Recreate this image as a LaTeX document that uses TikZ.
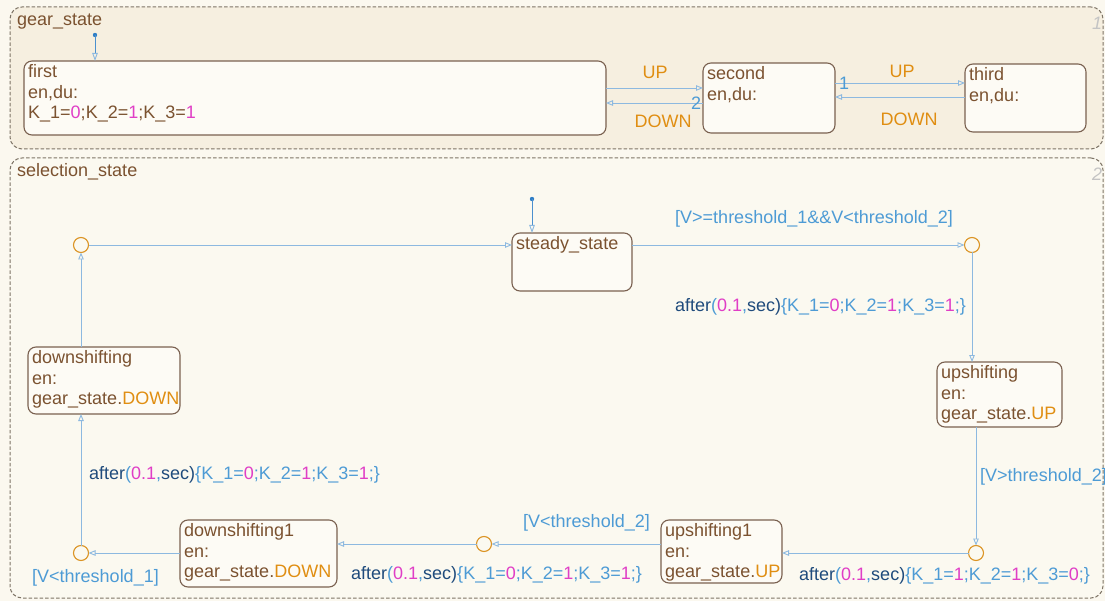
\documentclass[tikz,border=0pt]{standalone}
\usepackage{fontspec}
\setmainfont{Liberation Sans}
\usetikzlibrary{arrows.meta,calc}

\definecolor{paper}{HTML}{FBF8EF}
\definecolor{gearfill}{HTML}{F6EFE0}
\definecolor{selfill}{HTML}{FBF9F0}
\definecolor{framec}{HTML}{7E7466}
\definecolor{stfill}{HTML}{FDFBF5}
\definecolor{stline}{HTML}{7A6150}
\definecolor{brn}{HTML}{7B5230}
\definecolor{trn}{HTML}{8DB9E0}
\definecolor{sky}{HTML}{4D9BD5}
\definecolor{navy}{HTML}{1F4B7C}
\definecolor{mag}{HTML}{E03EC6}
\definecolor{org}{HTML}{E08E12}
\definecolor{junc}{HTML}{DB9424}
\definecolor{dotc}{HTML}{2F7EC6}
\definecolor{idx}{HTML}{C4C4C4}

\newcommand{\fs}{\fontsize{18}{20.5}\selectfont}
% transition action: after(0.1,sec){K_1=a;K_2=b;K_3=c;}
\newcommand{\aftr}[3]{\textcolor{navy}{after}\textcolor{sky}{(}\textcolor{mag}{0.1}\textcolor{sky}{,}\textcolor{navy}{sec)}\textcolor{sky}{\{K\_1=}\textcolor{mag}{#1}\textcolor{sky}{;K\_2=}\textcolor{mag}{#2}\textcolor{sky}{;K\_3=}\textcolor{mag}{#3}\textcolor{sky}{;\}}}

\tikzset{
  chart/.style={draw=framec, dash pattern=on 3.5pt off 2pt, rounded corners=12pt,
    line width=1pt, anchor=north west, inner sep=0, outer sep=0},
  chartname/.style={anchor=west, text=brn, font=\fs, inner sep=0},
  chartidx/.style={anchor=center, text=idx, font=\fs\itshape, inner sep=0},
  state/.style={draw=stline, fill=stfill, rounded corners=8pt, line width=1.1pt,
    anchor=north west, inner sep=0, outer sep=0},
  stxt/.style={anchor=north west, align=left, text=brn, font=\fs,
    inner xsep=4pt, inner ysep=3.5pt},
  junction/.style={circle, draw=junc, fill=selfill, minimum size=15pt,
    inner sep=0, outer sep=0, line width=1.1pt},
  trans/.style={draw=trn, line width=0.9pt,
    -{Triangle[open, length=7pt, width=5.5pt]}},
  deflt/.style={draw=dotc!70!trn, line width=0.9pt,
    -{Triangle[open, length=8pt, width=5.5pt, color=trn]}},
  lab/.style={text=sky, font=\fs, inner sep=0},
  evt/.style={text=org, font=\fs, inner sep=0},
}

\begin{document}
\begin{tikzpicture}[x=1pt, y=-1pt]
\useasboundingbox (0,0) rectangle (1105,601);
\fill[paper] (0,0) rectangle (1105,601);

% ---------- gear_state ----------
\node[chart, fill=gearfill, minimum width=1093pt, minimum height=142pt] (gear) at (10,7) {};
\node[chartname] (gearname) at (17,22) {gear\_state};
\node[chartidx] (gearidx) at (1097,23) {1};

\node[state, minimum width=582pt, minimum height=74pt,
  label={[stxt]north west:first\\en,du:\\K\_1=\textcolor{mag}{0};K\_2=\textcolor{mag}{1};K\_3=\textcolor{mag}{1}}]
  (first) at (24,61) {};
\node[state, minimum width=132pt, minimum height=70pt,
  label={[stxt]north west:second\\en,du:}] (second) at (703,63) {};
\node[state, minimum width=121pt, minimum height=68pt,
  label={[stxt]north west:third\\en,du:}] (third) at (965,64) {};

\coordinate (d1) at (95,35);
\fill[dotc] (d1) circle (2.2pt);
\draw[deflt] (d1) -- (first.north -| d1);

\draw[trans] ([yshift=10pt]first.east) -- ([yshift=10pt]second.west);
\draw[trans] ([yshift=-5pt]second.west) -- ([yshift=-5pt]first.east);
\draw[trans] ([yshift=15pt]second.east) -- ([yshift=15pt]third.west);
\draw[trans] ([yshift=1pt]third.west) -- ([yshift=1pt]second.east);

\node[evt] (e1) at (655,72) {UP};
\node[evt] (e2) at (663,121) {DOWN};
\node[lab] (p2) at (696,103) {2};
\node[lab] (p1) at (844,83) {1};
\node[evt] (e3) at (902,71) {UP};
\node[evt] (e4) at (909,119) {DOWN};

% ---------- selection_state ----------
\node[chart, fill=selfill, minimum width=1093pt, minimum height=440pt] (sel) at (10,158) {};
\node[chartname] (selname) at (17,172) {selection\_state};
\node[chartidx] (selidx) at (1097,174) {2};

\node[state, minimum width=120pt, minimum height=58pt,
  label={[stxt]north west:steady\_state}] (steady) at (512,233) {};
\node[state, minimum width=125pt, minimum height=65pt,
  label={[stxt]north west:upshifting\\en:\\gear\_state.\textcolor{org}{UP}}] (up) at (937,362) {};
\node[state, minimum width=121pt, minimum height=63pt,
  label={[stxt]north west:upshifting1\\en:\\gear\_state.\textcolor{org}{UP}}] (up1) at (661,520) {};
\node[state, minimum width=157pt, minimum height=67pt,
  label={[stxt]north west:downshifting1\\en:\\gear\_state.\textcolor{org}{DOWN}}] (down1) at (180,520) {};
\node[state, minimum width=152pt, minimum height=67pt,
  label={[stxt]north west:downshifting\\en:\\gear\_state.\textcolor{org}{DOWN}}] (down) at (28,347) {};

\node[junction] (j1) at (81,245) {};
\node[junction] (j2) at (972,245) {};
\node[junction] (j3) at (976,553) {};
\node[junction] (j4) at (484,544) {};
\node[junction] (j5) at (81,553) {};

\coordinate (d2) at (532,199);
\fill[dotc] (d2) circle (2.2pt);
\draw[deflt] (d2) -- (steady.north -| d2);

\draw[trans] (j1.east) -- (steady.west |- j1.east);
\draw[trans] (steady.east |- j2.west) -- (j2.west);
\draw[trans] (j2.south) -- (up.north -| j2.south);
\draw[trans] (up.south -| j3.north) -- (j3.north);
\draw[trans] (j3.west) -- (up1.east |- j3.west);
\draw[trans] (up1.west |- j4.east) -- (j4.east);
\draw[trans] (j4.west) -- (down1.east |- j4.west);
\draw[trans] (down1.west |- j5.east) -- (j5.east);
\draw[trans] (j5.north) -- (down.south -| j5.north);
\draw[trans] (down.north -| j1.south) -- (j1.south);

\node[lab, anchor=west] (g1) at (675,219) {[V>=threshold\_1\&\&V<threshold\_2]};
\node[lab, anchor=east] (a1) at (966,307) {\aftr{0}{1}{1}};
\node[lab, anchor=west] (g2) at (980,477) {[V>threshold\_2]};
\node[lab, anchor=west] (a2) at (799,576) {\aftr{1}{1}{0}};
\node[lab, anchor=west] (g3) at (523,523) {[V<threshold\_2]};
\node[lab, anchor=west] (a3) at (351,575) {\aftr{0}{1}{1}};
\node[lab, anchor=west] (g4) at (32,578) {[V<threshold\_1]};
\node[lab, anchor=west] (a4) at (89,475) {\aftr{0}{1}{1}};
\end{tikzpicture}
\end{document}
